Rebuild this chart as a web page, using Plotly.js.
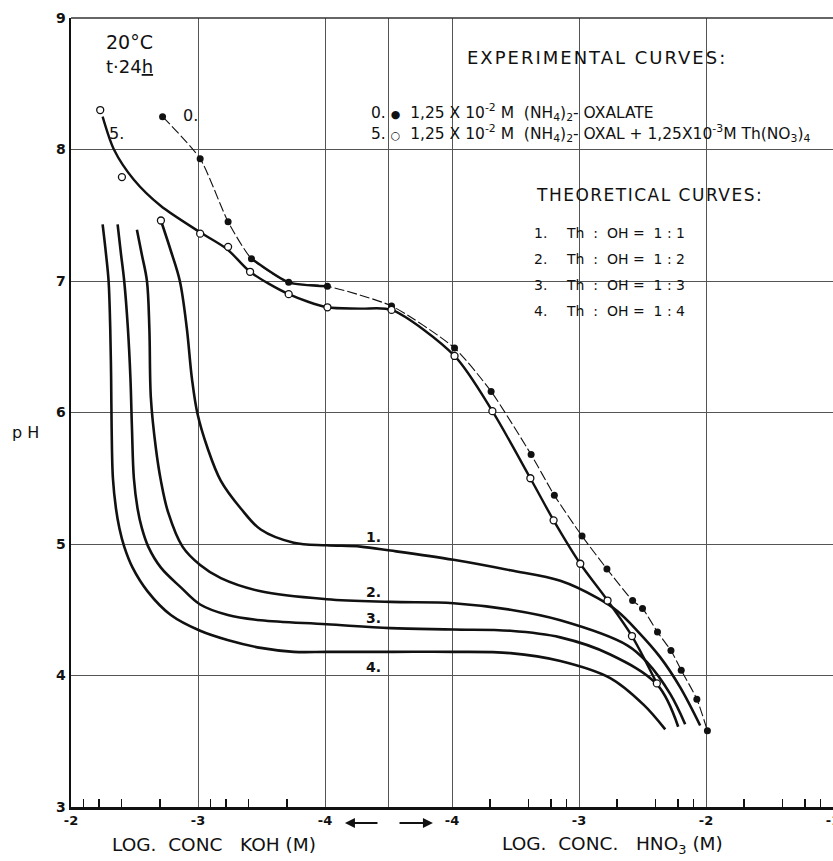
<!DOCTYPE html>
<html><head><meta charset="utf-8">
<script src="https://cdn.plot.ly/plotly-3.0.1.min.js"></script>
<style>html,body{margin:0;padding:0;background:#fff}</style>
</head><body>
<div id="chart" style="width:833px;height:861px"></div>
<script>
// Horizontal axis units: 0..2 = log conc KOH -2..-4 ; 3..6 = log conc HNO3 -4..-1
const tickPos = [0, 1, 2, 2.5, 3, 4, 5, 6];
const tickLabels = ['-2', '-3', '-4', '', '-4', '-3', '-2', '-1'];
const kohMinorConc = [0.008, 0.006, 0.004, 0.002, 0.0008, 0.0006, 0.0004, 0.0002];
const hno3MinorConc = [0.0002, 0.0004, 0.0006, 0.0008, 0.002, 0.004, 0.006, 0.008, 0.02, 0.04, 0.06, 0.08];

// Theoretical curves (Th : OH)
const c1x = [0.708,0.786,0.857,0.912,0.952,0.996,1.075,1.180,1.337,1.494,1.754,2.013,2.280,2.516,3.012,3.460,3.853,4.144,4.301,4.459,4.639,4.797,4.954];
const c1y = [7.46,7.23,7.00,6.64,6.26,5.99,5.73,5.48,5.27,5.11,5.01,4.99,4.98,4.95,4.88,4.80,4.72,4.59,4.49,4.34,4.14,3.91,3.62];
const c2x = [0.519,0.558,0.598,0.617,0.629,0.668,0.708,0.765,0.878,1.017,1.180,1.494,2.013,2.516,3.012,3.460,3.853,4.380,4.537,4.718,4.836];
const c2y = [7.39,7.20,7.00,6.64,6.11,5.73,5.48,5.24,4.98,4.84,4.74,4.64,4.58,4.56,4.55,4.50,4.42,4.23,4.10,3.86,3.63];
const c3x = [0.367,0.393,0.419,0.448,0.468,0.480,0.495,0.524,0.558,0.608,0.708,0.865,1.017,1.235,1.494,2.013,2.516,3.012,3.460,3.853,4.246,4.616,4.781];
const c3y = [7.43,7.21,7.00,6.64,6.26,5.88,5.50,5.27,5.12,4.98,4.82,4.67,4.54,4.46,4.42,4.39,4.36,4.35,4.34,4.29,4.16,3.93,3.61];
const c4x = [0.249,0.275,0.296,0.309,0.316,0.320,0.330,0.354,0.381,0.419,0.485,0.603,0.786,1.017,1.232,1.494,1.754,2.021,2.540,3.012,3.460,3.853,4.246,4.506,4.679];
const c4y = [7.43,7.21,7.00,6.64,6.26,5.88,5.50,5.27,5.12,4.98,4.82,4.64,4.46,4.34,4.27,4.21,4.18,4.18,4.18,4.18,4.17,4.11,3.98,3.78,3.59];

// Experimental curve 0: (NH4)2-oxalate
const e0x = [0.721,1.017,1.237,1.421,1.714,2.019,2.524,3.020,3.308,3.623,3.806,4.024,4.220,4.422,4.500,4.618,4.724,4.805,4.928,5.011];
const e0y = [8.25,7.93,7.45,7.17,6.99,6.96,6.81,6.49,6.16,5.68,5.37,5.06,4.81,4.57,4.51,4.33,4.19,4.04,3.82,3.58];
// Experimental curve 5: oxalate + Th(NO3)4 — measured points and drawn curve
const e5x = [0.230,0.401,1.017,1.237,1.410,1.714,2.019,2.524,3.020,3.318,3.617,3.800,4.010,4.225,4.417,4.613];
const e5y = [8.30,7.79,7.36,7.26,7.07,6.90,6.80,6.78,6.43,6.01,5.50,5.18,4.85,4.57,4.30,3.94];
const e5cx = [0.249,0.338,0.495,0.708,1.017,1.232,1.410,1.714,2.019,2.280,2.524,3.020,3.318,3.617,3.800,4.010,4.225,4.417,4.613];
const e5cy = [8.25,8.00,7.77,7.57,7.37,7.24,7.07,6.90,6.80,6.79,6.78,6.43,6.01,5.50,5.18,4.85,4.57,4.30,3.94];

const minorU = kohMinorConc.map(c => -2 - Math.log10(c)).concat(hno3MinorConc.map(c => Math.log10(c) + 7));

const INK = '#111';
const FONT = 'DejaVu Sans, Arial, sans-serif';
const theo = (x, y) => ({x, y, type:'scatter', mode:'lines', line:{color:INK, width:2.6, shape:'spline', smoothing:1}, hoverinfo:'skip'});

const traces = [
  theo(c1x, c1y), theo(c2x, c2y), theo(c3x, c3y), theo(c4x, c4y),
  {x:[c1x[0]], y:[c1y[0]], type:'scatter', mode:'markers', marker:{symbol:'circle', size:7, color:'#fff', line:{color:INK, width:1.3}}},
  {x:e0x, y:e0y, type:'scatter', mode:'lines', line:{color:INK, width:1.1, dash:'10px,3px', shape:'spline', smoothing:0.6}},
  {x:e0x.slice(3,6), y:e0y.slice(3,6), type:'scatter', mode:'lines', line:{color:INK, width:2.4, shape:'spline', smoothing:0.6}},
  {x:e0x, y:e0y, type:'scatter', mode:'markers', marker:{symbol:'circle', size:7, color:INK}},
  {x:e5cx, y:e5cy, type:'scatter', mode:'lines', line:{color:INK, width:2.4, shape:'spline', smoothing:0.8}},
  {x:e5x, y:e5y, type:'scatter', mode:'markers', marker:{symbol:'circle', size:7, color:'#fff', line:{color:INK, width:1.3}}}
];

const ann = (x, y, text, size, opts) => Object.assign({x, y, xref:'x', yref:'y', text, showarrow:false, xanchor:'left', yanchor:'middle', font:{family:FONT, size, color:INK}}, opts || {});
const pann = (x, y, text, size) => ({xref:'paper', yref:'paper', x, y, text, showarrow:false, xanchor:'center', yanchor:'middle', font:{family:FONT, size, color:INK}});

const annotations = [
  ann(0.26, 8.82, '20°C', 19),
  ann(0.26, 8.635, 't·24<span style="text-decoration:underline">h</span>', 18),
  ann(3.10, 8.70, '<span style="letter-spacing:2px">EXPERIMENTAL CURVES:</span>', 18),
  ann(2.346, 8.285, '0. <span style="font-size:11px">●</span>  1,25 X 10<sup>-2</sup> M  (NH<sub>4</sub>)<sub>2</sub>- OXALATE', 15.5),
  ann(2.346, 8.118, '5. <span style="font-size:11px">○</span>  1,25 X 10<sup>-2</sup> M  (NH<sub>4</sub>)<sub>2</sub>- OXAL + 1,25X10<sup>-3</sup>M Th(NO<sub>3</sub>)<sub>4</sub>', 15.5),
  ann(3.646, 7.654, '<span style="letter-spacing:1.5px">THEORETICAL CURVES:</span>', 17),
  ann(3.63, 7.363, '1.', 14), ann(3.88, 7.363, 'Th  :  OH =  1 : 1', 14),
  ann(3.63, 7.167, '2.', 14), ann(3.88, 7.167, 'Th  :  OH =  1 : 2', 14),
  ann(3.63, 6.97, '3.', 14), ann(3.88, 6.97, 'Th  :  OH =  1 : 3', 14),
  ann(3.63, 6.77, '4.', 14), ann(3.88, 6.77, 'Th  :  OH =  1 : 4', 14),
  ann(0.937, 8.255, '0.', 16, {xanchor:'center'}),
  ann(0.362, 8.125, '5.', 16, {xanchor:'center'}),
  ann(2.378, 5.053, '<b>1.</b>', 14, {xanchor:'center'}),
  ann(2.378, 4.635, '<b>2.</b>', 14, {xanchor:'center'}),
  ann(2.378, 4.437, '<b>3.</b>', 14, {xanchor:'center'}),
  ann(2.378, 4.065, '<b>4.</b>', 14, {xanchor:'center'}),
  pann(-0.060, 0.475, 'p H', 16),
  pann(0.1877, -0.048, 'LOG.  CONC   KOH (M)', 18.5),
  pann(0.711, -0.048, 'LOG.  CONC.   HNO<sub>3</sub> (M)', 18.5),
  {xref:'x', yref:'paper', x:2.157, y:-0.0203, axref:'x', ax:2.425, ayref:'pixel', ay:0, text:'', showarrow:true, arrowhead:2, arrowsize:1, arrowwidth:2, arrowcolor:INK},
  {xref:'x', yref:'paper', x:2.850, y:-0.0203, axref:'x', ax:2.575, ayref:'pixel', ay:0, text:'', showarrow:true, arrowhead:2, arrowsize:1, arrowwidth:2, arrowcolor:INK}
];

const layout = {
  width:833, height:861,
  margin:{l:71, r:0, t:18, b:54, pad:0},
  paper_bgcolor:'#fff', plot_bgcolor:'#fff',
  showlegend:false,
  font:{family:FONT, color:INK},
  xaxis:{
    range:[0,6], tickmode:'array', tickvals:tickPos, ticktext:tickLabels,
    showgrid:true, gridcolor:'#555', gridwidth:1, zeroline:false,
    showline:true, linecolor:INK, linewidth:2.5, ticks:'',
    ticklabeloverflow:'allow',
    tickfont:{family:FONT, size:13, color:INK, weight:'bold'},
    minor:{tickmode:'array', tickvals:minorU, ticks:'inside', ticklen:8, tickwidth:1.5, tickcolor:INK, showgrid:false}
  },
  yaxis:{
    range:[3,9], tickmode:'linear', tick0:3, dtick:1,
    showgrid:true, gridcolor:'#555', gridwidth:1, zeroline:false,
    showline:true, linecolor:INK, linewidth:2.5, ticks:'',
    tickfont:{family:FONT, size:14, color:INK, weight:'bold'}
  },
  shapes:[{type:'line', xref:'paper', yref:'paper', x0:0, x1:1, y0:1, y1:1, line:{color:'#333', width:1.5}}],
  annotations
};

Plotly.newPlot('chart', traces, layout, {staticPlot:true, displayModeBar:false});
</script>
</body></html>
